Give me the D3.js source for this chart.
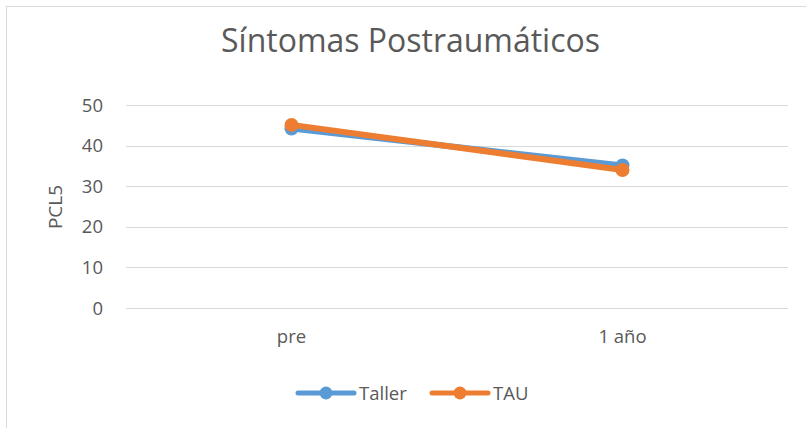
<!DOCTYPE html>
<html><head><meta charset="utf-8">
<script src="https://cdn.jsdelivr.net/npm/d3@7"></script>
<style>body{margin:0;background:#fff}svg{display:block}text{font-family:"Open Sans",sans-serif;fill:#595959}</style>
</head><body><svg id="c" width="806" height="428"></svg>
<script>
const categories = ["pre", "1 año"];
const tallerValues = [44.2, 35.1];
const tauValues = [45.1, 34.0];
const yTicks = [0, 10, 20, 30, 40, 50];
const seriesNames = ["Taller", "TAU"];
const seriesColors = ["#5B9BD5", "#ED7D31"];

const svg = d3.select("#c");
svg.append("rect").attr("x",6.5).attr("y",6.5).attr("width",820).attr("height",440)
  .attr("fill","#fff").attr("stroke","#D9D9D9").attr("stroke-width",1);

const x = d3.scaleBand().domain(categories).range([126, 788]);
const y = d3.scaleLinear().domain([0, 50]).range([308, 105]);

// gridlines
svg.append("g").selectAll("line").data(yTicks).join("line")
  .attr("x1",126).attr("x2",788).attr("y1",d=>Math.round(y(d))+0.5).attr("y2",d=>Math.round(y(d))+0.5)
  .attr("stroke","#D9D9D9").attr("stroke-width",1);

// y axis labels
const yAxis = d3.axisLeft(y).tickValues(yTicks).tickSize(0).tickPadding(0);
const gy = svg.append("g").attr("transform","translate(103,0)").call(yAxis);
gy.select(".domain").remove();
gy.selectAll("text").attr("font-size",18.5).attr("dy","0.33em").style("font-family","Open Sans").attr("fill","#595959");

// x axis labels
const xAxis = d3.axisBottom(x).tickSize(0).tickPadding(0);
const gx = svg.append("g").attr("transform","translate(0,343)").call(xAxis);
gx.select(".domain").remove();
gx.selectAll("text").attr("y",0).attr("dy",0).attr("font-size",18.5).style("font-family","Open Sans").attr("fill","#595959");

// axis title
svg.append("text").attr("transform","translate(62,207) rotate(-90)").attr("text-anchor","middle")
  .attr("font-size",19).text("PCL5");

// title
const title = svg.append("text").attr("x",410.5).attr("y",52).attr("text-anchor","middle")
  .attr("font-size",27).text("Síntomas Postraumáticos");
const tw = title.node().getComputedTextLength();
title.attr("font-size", 27*379/tw);

const series = [tallerValues, tauValues];
const line = d3.line().x((d,i)=>x(categories[i])+x.bandwidth()/2).y(d=>y(d));
series.forEach((vals,si)=>{
  svg.append("path").datum(vals).attr("d",line).attr("fill","none")
    .attr("stroke",seriesColors[si]).attr("stroke-width",6).attr("stroke-linecap","round");
  svg.append("g").selectAll("circle").data(vals).join("circle")
    .attr("cx",(d,i)=>x(categories[i])+x.bandwidth()/2).attr("cy",d=>y(d)).attr("r",7)
    .attr("fill",seriesColors[si]);
});

// legend
const legendX = [298, 432];
seriesNames.forEach((n,i)=>{
  const g = svg.append("g");
  g.append("line").attr("x1",legendX[i]).attr("x2",legendX[i]+56).attr("y1",393).attr("y2",393)
    .attr("stroke",seriesColors[i]).attr("stroke-width",5).attr("stroke-linecap","round");
  g.append("circle").attr("cx",legendX[i]+28).attr("cy",393).attr("r",6.5).attr("fill",seriesColors[i]);
  g.append("text").attr("x",legendX[i]+61).attr("y",399.5).attr("font-size",18.5).text(n);
});
</script></body></html>
